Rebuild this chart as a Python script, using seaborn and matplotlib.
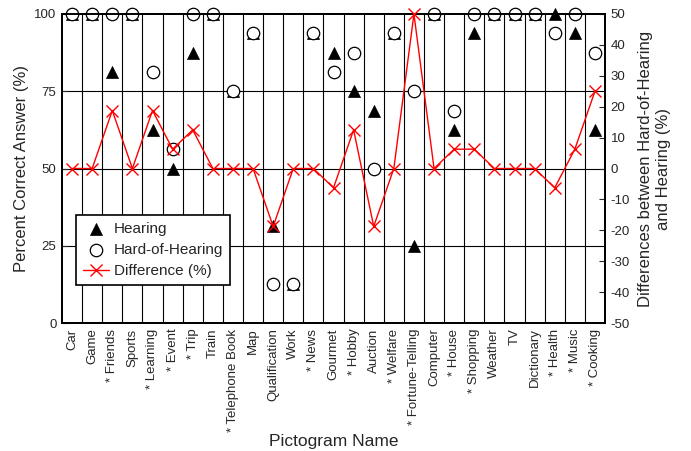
import matplotlib
matplotlib.use("Agg")
import matplotlib.pyplot as plt
import numpy as np
import pandas as pd
import seaborn as sns

# pictogram names (asterisk kept as in the original labels)
names = ["Car", "Game", "* Friends", "Sports", "* Learning", "* Event", "* Trip",
         "Train", "* Telephone Book", "Map", "Qualification", "Work", "* News",
         "Gourmet", "* Hobby", "Auction", "* Welfare", "* Fortune-Telling",
         "Computer", "* House", "* Shopping", "Weather", "TV", "Dictionary",
         "* Health", "* Music", "* Cooking"]

hearing = [100, 100, 81.25, 100, 62.5, 50, 87.5, 100, 75, 93.75, 31.25, 12.5,
           93.75, 87.5, 75, 68.75, 93.75, 25, 100, 62.5, 93.75, 100, 100, 100,
           100, 93.75, 62.5]

hard_of_hearing = [100, 100, 100, 100, 81.25, 56.25, 100, 100, 75, 93.75, 12.5,
                   12.5, 93.75, 81.25, 87.5, 50, 93.75, 75, 100, 68.75, 100,
                   100, 100, 100, 93.75, 100, 87.5]

difference = [0, 0, 18.75, 0, 18.75, 6.25, 12.5, 0, 0, 0, -18.75, 0, 0, -6.25,
              12.5, -18.75, 0, 50, 0, 6.25, 6.25, 0, 0, 0, -6.25, 6.25, 25]

left_ticks = [0, 25, 50, 75, 100]
right_ticks = list(range(-50, 51, 10))

df = pd.DataFrame({
    "pos": np.arange(len(names)),
    "name": names,
    "Hearing": hearing,
    "Hard-of-Hearing": hard_of_hearing,
    "Difference (%)": difference,
})

sns.set_theme(style="white")
plt.rcParams["font.family"] = ["Liberation Sans", "DejaVu Sans"]

fig = plt.figure(figsize=(6.91, 4.51), dpi=100)
ax = fig.add_axes([62 / 691, 1 - 323 / 451, 543 / 691, 309 / 451])
ax2 = ax.twinx()

# grid: vertical separators and horizontal lines at 25/50/75
for b in np.arange(len(names) - 1) + 0.5:
    ax.axvline(b, color="black", lw=0.8, zorder=0.5)
for h in [25, 50, 75]:
    ax.axhline(h, color="black", lw=0.8, zorder=0.5)

sns.scatterplot(data=df, x="pos", y="Hearing", marker="^", s=75,
                color="black", edgecolor="black", linewidth=0.5, ax=ax,
                clip_on=False, zorder=3, label="Hearing", legend=False)
sns.scatterplot(data=df, x="pos", y="Hard-of-Hearing", marker="o", s=80,
                facecolor="white", edgecolor="black", linewidth=0.9, ax=ax,
                clip_on=False, zorder=4, label="Hard-of-Hearing", legend=False)
sns.lineplot(data=df, x="pos", y="Difference (%)", color="red", lw=1.0,
             marker="x", markersize=9, markeredgewidth=1.0,
             markeredgecolor="red", ax=ax2, clip_on=False, zorder=5,
             label="Difference (%)", legend=False)

ax.set_xlim(-0.5, len(names) - 0.5)
ax.set_ylim(0, 100)
ax2.set_ylim(-50, 50)
ax.set_xticks(df["pos"])
ax.set_xticklabels(names, rotation=90, fontsize=9.5)
ax.set_yticks(left_ticks)
ax.set_yticklabels([str(t) for t in left_ticks], fontsize=9.5)
ax2.set_yticks(right_ticks)
ax2.set_yticklabels([str(t) for t in right_ticks], fontsize=9.5)
ax.tick_params(axis="x", length=0, pad=4)
ax.tick_params(axis="y", length=4, width=0.8, direction="in", pad=4, left=True)
ax2.tick_params(axis="y", length=4, width=0.8, direction="in", pad=4, right=True)

ax.set_xlabel("Pictogram Name", fontsize=12.5, labelpad=2)
ax.set_ylabel("Percent Correct Answer (%)", fontsize=12, labelpad=4)
ax2.set_ylabel("Differences between Hard-of-Hearing\nand Hearing (%)",
               fontsize=12, labelpad=6)

ax.set_zorder(ax2.get_zorder() + 1)
ax.patch.set_visible(False)
ax2.set_zorder(ax.get_zorder() + 1)

for a in (ax, ax2):
    for sp in a.spines.values():
        sp.set_color("black")
        sp.set_linewidth(1.4)

h1, l1 = ax.get_legend_handles_labels()
h2, l2 = ax2.get_legend_handles_labels()
leg = ax2.legend(h1 + h2, l1 + l2, loc="lower left",
                 bbox_to_anchor=(0.026, 0.123), borderaxespad=0,
                 fontsize=11, frameon=True, fancybox=False,
                 edgecolor="black", framealpha=1, borderpad=0.45,
                 handletextpad=0.3, labelspacing=0.45, handlelength=1.7)
leg.get_frame().set_linewidth(1.2)

fig.savefig("out.png", dpi=100)
